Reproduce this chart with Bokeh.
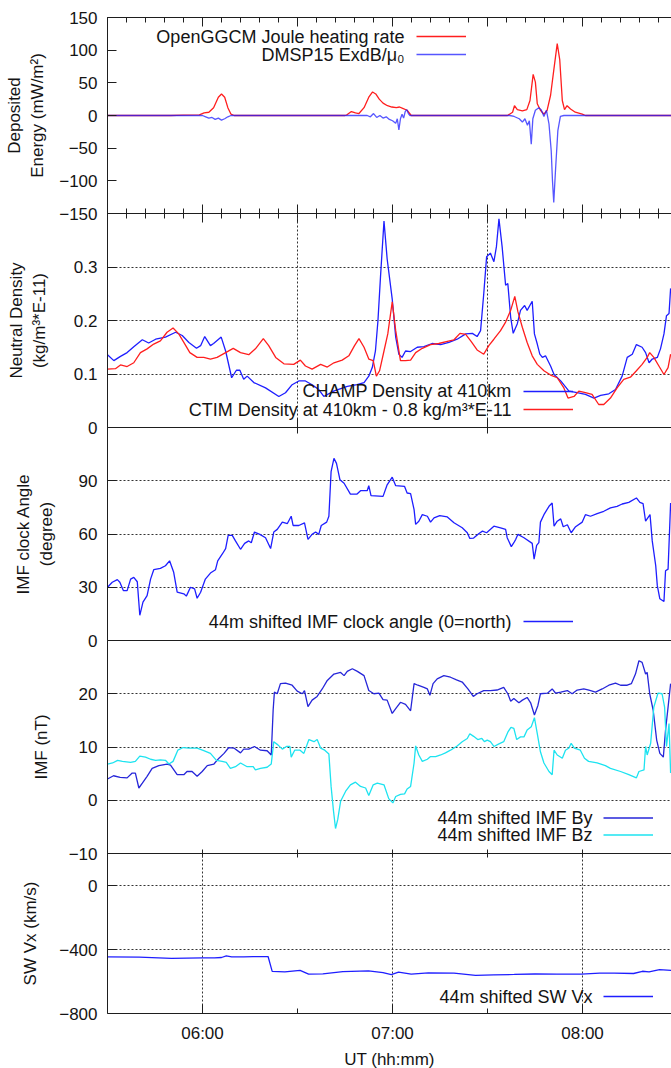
from bokeh.plotting import figure
from bokeh.layouts import column
from bokeh.models import (Range1d, FixedTicker, LinearAxis, Grid, Label, Legend,
                          LegendItem, CustomJSTickFormatter)
from bokeh.embed import file_html
from bokeh.resources import INLINE

# ------------------------------------------------------------------ data
# time of every sample: minutes after 05:30 UT
T_START = 5.5      # 05:30 UT (hours)
T_END = 8.468      # right edge of the (cropped) panels (hours)

joule_min = [0, 20, 24, 29, 30.5, 32, 33.5, 35, 36, 37, 38, 39, 40,
             75, 75.6, 77, 78.3, 79.4, 81, 82.5, 83.7, 84.7, 85.8, 87, 88.4, 89.8, 91.2, 92.2, 93.2, 94.6, 95.9,
             126.3, 127.9, 128.5, 129.4, 131, 132.4, 133.4, 134.4, 135.1, 135.7, 136.7, 137.8, 138.8, 139.9,
             140.9, 142, 142.8, 143.6, 144.3, 145.1, 146.2, 147.7, 149.9, 150.9, 178]
joule_val = [0, 0, 0.5, 1, 4, 5, 12, 28, 33, 28, 12, 2, 0,
             0, 1, 6, 4, 3, 12, 28, 36, 33, 25, 19, 15, 13, 12, 13, 11, 8, 0,
             0, 5, 15, 9, 7, 9, 23, 63, 51, 18, 8, 2, 8, 31,
             69, 110, 85, 23, 9, 15, 10, 5, 2, 0, 0]

dmsp_min = [0, 30, 31, 32, 33, 34, 35, 36, 37, 38, 39,
            82, 83, 84, 85, 86, 87, 88, 89, 90, 91,
            91.5, 92, 92.5, 93, 93.5, 94, 94.5, 95, 95.5,
            127, 128.4, 130, 131, 131.8, 132.6, 133.2, 133.8, 134.3, 135.1, 136.2, 136.9,
            137.8, 138.6, 139.4, 140.1, 140.5, 140.9, 141.5, 142.2, 143, 144.1, 178]
dmsp_val = [0, 0, -2, -4, -3, -6, -4, -7, -5, -2, 0,
            0, -2, 3, -3, 0, -4, -2, -6, -8, -12,
            -5, -22, -5, 2, -4, 6, 9, 3, 0,
            0, -1.5, -5, -10, -5, -15, -8, -44, -5, 8, 12, 9,
            -1.5, 8, -13, -54, -100, -133, -80, -23, -1.5, 0, 0]

champ_min = [0, 2, 4.1, 6.2, 8.3, 11, 13, 15.2, 18.3, 21.5,
             23.6, 25.7, 28.1, 29.4, 30.7, 32.5, 33.5, 35.9, 37.3, 39.2,
             40.7, 41.8, 43, 44.1, 46.2, 49.9, 54.1, 56.2, 58.3, 60.4,
             62.5, 64.6, 66.7, 68.3, 71.4, 75.7, 78.8, 81, 82.5, 83.6,
             84.6, 85.4, 86.2, 87.3, 88.3, 89.9, 91, 92, 93, 94.1,
             95.7, 97.8, 99.9, 102.5, 105.2, 107.8, 110.4, 113.1, 115.2, 116.7,
             117.8, 118.8, 119.7, 120.9, 122, 122.8, 123.6, 124.6, 125.7, 126.4,
             127.3, 128.1, 129.4, 130.4, 131.7, 132.5, 134.1, 134.8, 135.7, 136.5,
             137.3, 138.3, 139.9, 141, 143.1, 145.7, 148.3, 150.9, 153.6, 155.7,
             158.3, 160.4, 162.5, 164.1, 165.7, 167, 168.8, 169.9, 171, 172,
             173.6, 174.6, 175.7, 176.5, 177.3, 177.8]
champ_val = [0.136, 0.125, 0.133, 0.140, 0.151, 0.164, 0.158, 0.165, 0.169, 0.178,
             0.172, 0.159, 0.148, 0.153, 0.170, 0.153, 0.157, 0.169, 0.143, 0.093,
             0.107, 0.107, 0.090, 0.096, 0.084, 0.074, 0.058, 0.065, 0.080, 0.087,
             0.087, 0.080, 0.071, 0.058, 0.068, 0.077, 0.080, 0.084, 0.096, 0.112,
             0.143, 0.200, 0.282, 0.386, 0.315, 0.240, 0.169, 0.137, 0.131, 0.143,
             0.142, 0.150, 0.151, 0.157, 0.155, 0.159, 0.165, 0.175, 0.176, 0.170,
             0.181, 0.250, 0.319, 0.326, 0.310, 0.338, 0.390, 0.338, 0.266, 0.269,
             0.206, 0.176, 0.194, 0.219, 0.228, 0.219, 0.236, 0.175, 0.156, 0.137,
             0.131, 0.134, 0.115, 0.099, 0.087, 0.068, 0.065, 0.062, 0.055, 0.060,
             0.063, 0.071, 0.096, 0.131, 0.137, 0.155, 0.150, 0.140, 0.121, 0.128,
             0.131, 0.147, 0.175, 0.209, 0.213, 0.260]

ctim_min = [0, 2.5, 4.1, 6.2, 8.3, 10.4, 12.5, 14.6, 16.7, 18.8,
            20.7, 22.5, 24.1, 26, 28.3, 30.4, 32.5, 34.6, 37.3, 39.7,
            42, 44.6, 46.7, 49.2, 50.9, 53.1, 55.7, 58.8, 60.9, 62.5,
            64.6, 67.3, 69.4, 71.5, 74.1, 76.2, 78, 79.4, 81, 82.5,
            83.9, 84.9, 85.9, 87.3, 88.5, 89.9, 91, 92.5, 94.1, 95.7,
            97.3, 99.4, 102, 104.6, 107.3, 109.4, 111.3, 113.1, 114.8, 116.7,
            118.8, 120.4, 122, 124.1, 125.7, 127.3, 128.6, 129.6, 131, 132.5,
            134.1, 135.7, 137.8, 139.9, 142, 144.1, 145.4, 147.3, 148.8, 150.9,
            153, 155.1, 156.7, 158.8, 160.9, 163, 165.1, 167, 168.8, 170.4,
            171.2, 172.5, 174.1, 175.7, 177, 177.8]
ctim_val = [0.109, 0.110, 0.117, 0.114, 0.121, 0.140, 0.147, 0.156, 0.162, 0.178,
            0.186, 0.175, 0.159, 0.140, 0.131, 0.131, 0.128, 0.131, 0.140, 0.148,
            0.140, 0.136, 0.147, 0.166, 0.153, 0.131, 0.119, 0.118, 0.126, 0.115,
            0.109, 0.118, 0.113, 0.121, 0.126, 0.134, 0.153, 0.166, 0.150, 0.128,
            0.125, 0.096, 0.106, 0.143, 0.175, 0.235, 0.181, 0.125, 0.125, 0.126,
            0.140, 0.148, 0.155, 0.157, 0.161, 0.164, 0.176, 0.174, 0.161, 0.145,
            0.137, 0.153, 0.165, 0.181, 0.197, 0.219, 0.245, 0.216, 0.187, 0.159,
            0.134, 0.118, 0.106, 0.098, 0.093, 0.074, 0.055, 0.058, 0.068, 0.065,
            0.062, 0.043, 0.043, 0.055, 0.074, 0.090, 0.094, 0.106, 0.118, 0.131,
            0.140, 0.131, 0.115, 0.099, 0.112, 0.137]

clock_min = [0, 1.5, 3.1, 3.9, 5, 6.2, 7.3, 8.3, 9.4, 10.2,
             11.2, 12.5, 13.6, 14.6, 16.7, 18.3, 19.6, 20.9, 22, 24.1,
             24.9, 26.2, 27.5, 28.3, 29.4, 30.9, 32.5, 34.1, 34.8, 36.2,
             37.3, 38.1, 39.4, 40.4, 42, 43.3, 44.6, 45.4, 46.4, 48.1,
             49.9, 51.5, 52.5, 53.6, 55.2, 56.8, 58, 58.6, 60.4, 62.2,
             63.3, 64.6, 65.7, 66.7, 67.5, 69.2, 69.9, 70.6, 71.5, 72.3,
             73.4, 74.7, 76.7, 78.8, 79.9, 82, 82.5, 83.2, 87, 88.3,
             89.9, 91, 93.8, 94.6, 95.7, 96.8, 97.3, 98.3, 99.4, 101,
             102, 103.1, 104.9, 107.3, 109.4, 112, 113.6, 114.4, 115.6, 117.3,
             118.4, 119.7, 122, 124.1, 125.7, 126.2, 127.5, 128.3, 128.9, 129.6,
             131.5, 134.1, 134.7, 135.5, 136.2, 136.7, 137.8, 139.4, 140.4, 141,
             142, 143.1, 143.9, 145.2, 146.4, 147.8, 149.9, 150.9, 152.5, 154.6,
             156.7, 158.8, 160.9, 162.5, 164.6, 167, 168.1, 169.1, 169.9, 171.3,
             172, 173.1, 173.6, 174.4, 175.7, 176.2, 177, 177.8]
clock_val = [30.0, 32.8, 34.3, 32.8, 28.1, 28.1, 34.6, 35.6, 33.1, 14.2,
             21.6, 25.3, 34.6, 39.9, 40.6, 42.1, 44.9, 38.4, 27.2, 26.3,
             25.0, 30.0, 29.1, 23.8, 27.2, 34.6, 38.0, 39.9, 44.9, 48.6,
             51.8, 59.2, 59.2, 56.1, 51.4, 54.7, 56.1, 55.1, 61.1, 59.8,
             57.9, 51.8, 61.1, 62.6, 66.7, 65.9, 70.0, 64.8, 64.8, 66.3,
             57.0, 59.8, 61.1, 59.8, 64.8, 66.7, 70.0, 95.2, 102.6, 99.8,
             90.5, 88.6, 82.5, 82.5, 84.4, 84.4, 87.2, 81.6, 81.2, 87.7,
             92.0, 87.2, 86.8, 83.1, 82.7, 73.7, 65.4, 67.2, 70.9, 70.0,
             66.7, 69.1, 70.4, 69.6, 66.3, 63.5, 60.7, 57.5, 57.7, 60.3,
             61.6, 60.7, 64.4, 63.5, 62.6, 57.9, 52.9, 55.1, 57.0, 59.8,
             57.9, 54.7, 45.8, 53.6, 55.1, 66.7, 70.9, 75.6, 77.5, 64.4,
             67.2, 68.5, 64.1, 65.2, 60.7, 64.1, 66.7, 70.9, 70.0, 71.5,
             72.8, 74.7, 75.6, 76.9, 77.8, 80.3, 77.8, 77.1, 67.2, 70.9,
             56.1, 42.1, 30.9, 23.5, 22.0, 39.3, 40.2, 77.5]

by_min = [0, 1.9, 4, 6.2, 7.8, 8.8, 9.9, 11, 12.5, 14.1,
          16.2, 18.8, 19.9, 22, 24.1, 25.1, 26.7, 28.3, 29.9, 31.5,
          33.6, 35.2, 36.8, 38.3, 39.9, 42, 43, 44.6, 46.4, 48.3,
          50.4, 51.7, 52.3, 52.7, 53.6, 54.6, 56.2, 58.3, 59.9, 61.5,
          62.2, 63.3, 64.6, 66.2, 67.8, 69.4, 71.5, 73.6, 74.7, 75.7,
          77.3, 78.9, 81, 82.5, 84.1, 85.7, 87, 88.3, 89.9, 91,
          92.5, 94.1, 95.7, 96.8, 98, 99.9, 101, 101.8, 102.8, 104.1,
          106.2, 108.3, 110.2, 112, 113.8, 115.5, 116.7, 118.8, 120.9, 123,
          125.1, 126.4, 127.3, 128.3, 129.9, 131, 132.5, 133.6, 134.8, 135.9,
          136.7, 138.9, 140.4, 141.5, 143.1, 145.2, 146.7, 148.3, 150.4, 152,
          154.1, 156.2, 158.3, 160.4, 162, 164.1, 165.4, 166.7, 167.8, 168.8,
          169.9, 170.4, 171.2, 172.3, 173.4, 174.4, 175.5, 176.2, 177, 177.8]
by_val = [4.0, 4.6, 4.3, 4.2, 5.1, 5.1, 2.3, 3.2, 4.5, 6.0,
          6.5, 6.8, 6.6, 4.8, 4.8, 5.4, 5.4, 4.5, 5.4, 6.5,
          6.8, 7.9, 8.8, 9.9, 9.8, 8.9, 9.6, 9.6, 10.1, 9.4,
          9.3, 8.5, 16.9, 20.3, 20.0, 21.9, 22.0, 21.6, 20.5, 20.0,
          20.6, 17.6, 18.8, 19.5, 20.9, 22.5, 23.7, 24.0, 23.4, 24.2,
          24.7, 24.2, 23.4, 20.6, 20.0, 20.1, 18.9, 18.8, 16.3, 17.2,
          18.4, 18.0, 16.8, 21.9, 21.6, 21.2, 20.9, 19.7, 21.9, 22.8,
          23.4, 23.1, 22.6, 22.2, 20.9, 19.5, 20.0, 20.6, 20.6, 20.7,
          21.2, 20.0, 18.6, 19.1, 18.3, 18.8, 19.3, 18.3, 16.0, 17.8,
          20.0, 20.1, 20.9, 20.1, 20.3, 20.6, 20.0, 20.7, 20.9, 20.7,
          20.3, 20.9, 21.6, 22.0, 21.6, 21.6, 21.9, 23.7, 26.2, 25.9,
          23.7, 24.0, 20.0, 16.9, 11.3, 8.8, 8.1, 13.2, 17.5, 21.9]

bz_min = [0, 1.6, 3.2, 4.7, 7.3, 8.8, 10.2, 12, 13.6, 15.2,
          16.7, 18.3, 19.4, 20.7, 22.2, 23.9, 25.7, 28.3, 30.4, 32.5,
          34.4, 36.2, 37.5, 38.8, 40.4, 42, 44.1, 46, 46.7, 48.3,
          50.4, 51.7, 52.5, 53.8, 55.2, 56.5, 57.6, 58, 59.1, 60.8,
          62, 63.6, 65.2, 66.2, 67.3, 68.6, 69.9, 70.6, 71.3, 72,
          72.7, 73.6, 75.2, 76.7, 78.3, 79.9, 81.5, 82.5, 83.9, 85.2,
          87.3, 88.8, 90.1, 91, 92.5, 93.8, 94.6, 95.7, 96.8, 97.3,
          98.3, 99.4, 101, 102, 103.6, 105.2, 106.7, 108.3, 110.4, 112,
          113.6, 114.4, 115.6, 116.9, 118.2, 119, 119.9, 120.9, 122, 123.6,
          125.1, 126.5, 127.4, 128.3, 129.2, 130.4, 131.5, 132.5, 133.8, 134.8,
          135.7, 136.7, 137.8, 139.4, 140.4, 141, 142, 143.6, 144.6, 145.7,
          146.4, 147.4, 149.3, 150.6, 151.9, 154.6, 157.2, 158.8, 162, 164.6,
          167, 167.8, 169.4, 169.9, 170.4, 171.5, 172.5, 173.8, 175.1, 175.9,
          176.5, 177.3, 177.8]
bz_val = [6.8, 7.0, 7.5, 7.3, 7.1, 7.3, 8.3, 8.1, 7.7, 7.5,
          7.6, 7.5, 6.8, 7.3, 9.4, 9.9, 9.8, 9.8, 9.3, 8.8,
          7.5, 7.3, 7.1, 6.0, 6.3, 7.0, 6.3, 6.3, 5.7, 6.0,
          6.2, 6.8, 11.0, 10.4, 9.6, 10.1, 10.1, 8.1, 9.4, 9.4,
          8.8, 11.4, 11.0, 11.4, 9.8, 9.4, 8.7, 2.6, -1.7, -5.3,
          -3.6, -0.2, 1.7, 2.9, 3.4, 2.6, 2.3, 0.9, 2.9, 3.2,
          2.9, 0.3, -0.5, 0.7, 1.1, 1.2, 2.1, 2.6, 7.0, 10.2,
          8.5, 7.3, 7.7, 8.2, 8.2, 8.5, 8.9, 9.4, 10.2, 11.0,
          11.6, 12.5, 12.0, 11.4, 11.6, 11.0, 11.3, 11.0, 10.1, 10.6,
          11.0, 12.9, 13.7, 13.5, 11.4, 11.9, 11.9, 13.2, 13.8, 15.5,
          12.5, 9.1, 7.0, 5.4, 4.8, 9.4, 8.5, 7.9, 9.4, 9.8,
          10.7, 9.8, 9.4, 7.9, 7.3, 7.0, 6.5, 6.0, 5.4, 4.8,
          4.2, 5.4, 5.7, 10.1, 8.5, 10.7, 17.5, 20.1, 20.0, 17.5,
          10.1, 14.4, 5.1]

vx_min = [0, 10, 20.2, 30, 33.8, 36, 37.5, 39.2, 43, 46, 50.7,
          52, 56, 60.8, 63.5, 68, 74.3, 82.4, 87, 89.6, 91.9, 95.9,
          101.3, 109.4, 116.2, 122, 128.4, 135, 141.8, 149.6, 155.4, 160,
          166.1, 168.9, 171, 174.3, 178]
vx_val = [-446, -448, -455, -452, -452, -450, -440, -446, -446, -444, -444,
          -537, -540, -531, -554, -552, -538, -533, -545, -557, -541, -554,
          -546, -548, -562, -558, -556, -553, -554, -554, -548, -548,
          -550, -536, -540, -526, -530]

energy_ticks = [-150, -100, -50, 0, 50, 100, 150]
density_ticks = [0, 0.1, 0.2, 0.3]
clock_ticks = [0, 30, 60, 90]
imf_ticks = [-10, 0, 10, 20]
vx_ticks = [-800, -400, 0]
hour_ticks = [6, 7, 8]
hour_labels = ["06:00", "07:00", "08:00"]
half_hour_ticks = [5.5, 6, 6.5, 7, 7.5, 8]
six_min_ticks = [5.5 + k * 0.1 for k in range(30)]


def ut(mins):
    return [T_START + m / 60.0 for m in mins]


# ------------------------------------------------------------------ style
FONT = "Liberation Sans"
FS = "17px"
KEY_FS = "18px"
TXT = "#141414"
AXC = "#1e1e1e"
GRIDC = "#333333"
RED = "#ff1e1e"
BLUE = "#1e1eff"
BY_C = "#2626d9"
BZ_C = "#1de3f0"
LW = 1.3
LEFT = 107
FRAME_W = 564
PX_PER_H = FRAME_W / (T_END - T_START)
EXT = 12

x_range = Range1d(T_START, T_END)


def make_panel(yr, frame_h, top, bottom, mb):
    return figure(frame_width=FRAME_W, frame_height=frame_h, x_range=x_range,
                  y_range=Range1d(*yr), x_axis_type=None, y_axis_type=None,
                  output_backend="svg", toolbar_location=None,
                  min_border_left=LEFT, min_border_right=0, min_border_top=top,
                  min_border_bottom=bottom, background_fill_color=None,
                  border_fill_color=None, outline_line_color=None,
                  margin=(0, 0, mb, 0))


def add_yaxis(p, ticks, label, standoff, formatter=None):
    ax = LinearAxis(ticker=FixedTicker(ticks=ticks), axis_label=label)
    if formatter is not None:
        ax.formatter = formatter
    ax.major_tick_in = 9
    ax.major_tick_out = 0
    ax.minor_tick_in = 0
    ax.minor_tick_out = 0
    ax.major_label_standoff = 10
    ax.axis_label_standoff = standoff
    ax.major_label_text_font = FONT
    ax.major_label_text_font_size = FS
    ax.major_label_text_color = TXT
    ax.axis_label_text_font = FONT
    ax.axis_label_text_font_size = FS
    ax.axis_label_text_font_style = "normal"
    ax.axis_label_text_color = TXT
    ax.axis_line_color = AXC
    ax.major_tick_line_color = AXC
    p.add_layout(ax, "left")
    return ax


def add_xaxis(p, place, major, minor, mj_in, mj_out, mn_in, mn_out, labels=False):
    ax = LinearAxis(ticker=FixedTicker(ticks=major, minor_ticks=minor))
    ax.major_tick_in = mj_in
    ax.major_tick_out = mj_out
    ax.minor_tick_in = mn_in
    ax.minor_tick_out = mn_out
    ax.axis_line_color = AXC
    ax.major_tick_line_color = AXC
    ax.minor_tick_line_color = AXC
    if labels:
        ax.major_label_text_font = FONT
        ax.major_label_text_font_size = FS
        ax.major_label_text_color = TXT
        ax.major_label_standoff = 10
    else:
        # tick marks only (gnuplot mirror tics): no labels drawn
        ax.major_label_text_color = None
        ax.major_label_text_font_size = "1px"
        ax.major_label_standoff = 0
    p.add_layout(ax, place)
    return ax


def add_grid(p, dim, ticks):
    p.add_layout(Grid(dimension=dim, ticker=FixedTicker(ticks=ticks),
                      grid_line_color=GRIDC, grid_line_dash="2 2",
                      grid_line_width=1))


def add_key(p, renderers, texts, text_right_px, first_row_val, row_step_val,
            vx, vy, row_h):
    # gnuplot style key: right-aligned text followed by a line sample
    tx = T_START + (text_right_px - LEFT) / PX_PER_H
    for i, t in enumerate(texts):
        p.add_layout(Label(x=tx, y=first_row_val - i * row_step_val, text=t,
                           text_align="right", text_baseline="middle",
                           text_font=FONT, text_font_size=KEY_FS, text_color=TXT))
    items = [LegendItem(label=" ", renderers=[r]) for r in renderers]
    lg = Legend(items=items, location=(vx, vy), orientation="vertical",
                glyph_width=50, glyph_height=row_h, label_height=row_h,
                label_width=0, label_standoff=0, padding=0, margin=0,
                spacing=0, border_line_alpha=0, background_fill_alpha=0,
                label_text_font_size="1px", label_text_alpha=0)
    p.add_layout(lg)


# ------------------------------------------------------------------ panel 1
p1 = make_panel((-150, 150), 196, 17, EXT, -EXT)
r_joule = p1.line(ut(joule_min), joule_val, line_color=RED, line_width=LW)
r_dmsp = p1.line(ut(dmsp_min), dmsp_val, line_color=BLUE, line_width=LW, line_alpha=0.75)
add_yaxis(p1, energy_ticks, "Deposited\nEnergy (mW/m²)", 9)
add_xaxis(p1, "above", half_hour_ticks, six_min_ticks, 9, 0, 5, 0)
add_xaxis(p1, "below", half_hour_ticks, six_min_ticks, 9, 9, 5, 5)
add_key(p1, [r_joule, r_dmsp], ["OpenGGCM Joule heating rate", "DMSP15 ExdB/μ₀"],
        404, 120.9, 27.6, 309, 150, 18)

# ------------------------------------------------------------------ panel 2
p2 = make_panel((0, 0.4), 214, 0, EXT, -EXT)
add_grid(p2, 0, [6.5, 7.5])
add_grid(p2, 1, [0.1, 0.2, 0.3])
r_champ = p2.line(ut(champ_min), champ_val, line_color=BLUE, line_width=LW)
r_ctim = p2.line(ut(ctim_min), ctim_val, line_color=RED, line_width=LW)
dens_fmt = CustomJSTickFormatter(code="return Math.abs(tick) < 1e-9 ? '0' : tick.toFixed(1);")
add_yaxis(p2, density_ticks, "Neutral Density\n(kg/m³*E-11)", 22, dens_fmt)
add_xaxis(p2, "below", [6.5, 7.5], [], 9, 0, 0, 0)
add_key(p2, [r_champ, r_ctim],
        ["CHAMP Density at 410km", "CTIM Density at 410km - 0.8 kg/m³*E-11"],
        511, 0.0673, 0.0337, 416, 9, 18)

# ------------------------------------------------------------------ panel 3
p3 = make_panel((0, 120), 213, 0, EXT, -EXT)
add_grid(p3, 1, [30, 60, 90])
r_clock = p3.line(ut(clock_min), clock_val, line_color=BLUE, line_width=LW)
add_yaxis(p3, clock_ticks, "IMF clock Angle\n(degree)", 20)
add_xaxis(p3, "above", [6.5, 7.5], [], 6, 0, 0, 0)
add_xaxis(p3, "below", [], [], 0, 0, 0, 0)
add_key(p3, [r_clock], ["44m shifted IMF clock angle (0=north)"],
        511, 10.7, 0, 416, 10, 18)

# ------------------------------------------------------------------ panel 4
p4 = make_panel((-10, 30), 213, 0, EXT, -EXT)
add_grid(p4, 1, [0, 10, 20])
r_by = p4.line(ut(by_min), by_val, line_color=BY_C, line_width=LW)
r_bz = p4.line(ut(bz_min), bz_val, line_color=BZ_C, line_width=LW)
add_yaxis(p4, imf_ticks, "IMF (nT)", 15)
add_xaxis(p4, "below", half_hour_ticks, [], 4, 4, 0, 0)
add_key(p4, [r_by, r_bz], ["44m shifted IMF By", "44m shifted IMF Bz"],
        592, -3.33, 3.2, 496, 10, 17)

# ------------------------------------------------------------------ panel 5
p5 = make_panel((-800, 200), 160, 0, 55, 0)
add_grid(p5, 0, hour_ticks)
add_grid(p5, 1, [-400, 0])
r_vx = p5.line(ut(vx_min), vx_val, line_color=BLUE, line_width=LW)
add_yaxis(p5, vx_ticks, "SW Vx (km/s)", 16)
xa = add_xaxis(p5, "below", hour_ticks, [6.5, 7.5], 9, 0, 5, 0, labels=True)
xa.formatter = CustomJSTickFormatter(args=dict(vals=hour_ticks, labs=hour_labels), code="""
for (let i = 0; i < vals.length; i++) { if (Math.abs(vals[i] - tick) < 1e-6) return labs[i]; }
return '';
""")
xa.axis_label = "UT (hh:mm)"
xa.axis_label_standoff = 4
xa.axis_label_text_font = FONT
xa.axis_label_text_font_size = FS
xa.axis_label_text_font_style = "normal"
xa.axis_label_text_color = TXT
add_key(p5, [r_vx], ["44m shifted SW Vx"], 592, -693.75, 0, 496, 8, 18)

layout = column(p1, p2, p3, p4, p5, spacing=0)
open("out.html", "w").write(file_html(layout, INLINE))
